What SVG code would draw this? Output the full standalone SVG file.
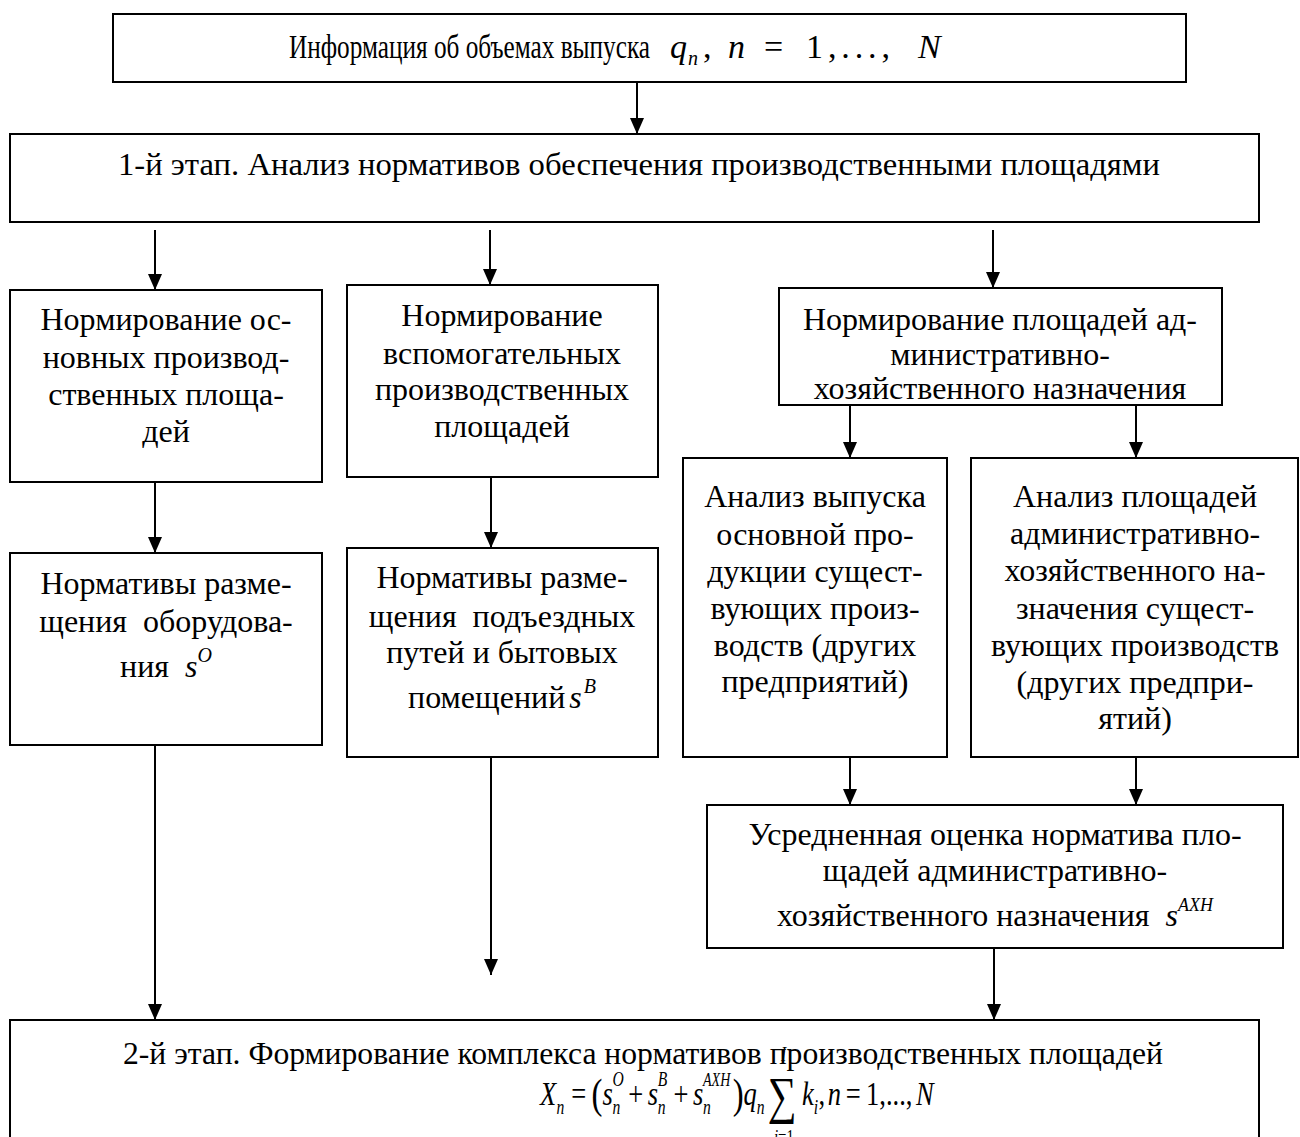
<svg xmlns="http://www.w3.org/2000/svg" width="1300" height="1137" viewBox="0 0 1300 1137">
<style>
.box{fill:#fff;stroke:#000;stroke-width:2}
.t{font-family:"Liberation Serif","Times New Roman",serif;font-size:32px;text-anchor:middle;fill:#000}
.f{font-family:"Liberation Serif","Times New Roman",serif;font-size:34px;fill:#000}
.i{font-style:italic}
.s{font-size:20px}
.c line{stroke:#000;stroke-width:2;marker-end:url(#arr)}
</style>
<defs>
<marker id="arr" markerUnits="userSpaceOnUse" markerWidth="16" markerHeight="14" refX="16" refY="7" orient="auto">
<path d="M0,0 L16,7 L0,14 z" fill="#000"/>
</marker>
</defs>
<rect width="1300" height="1137" fill="#fff"/>
<g class="c" id="connectors">
<line x1="637" y1="82" x2="637" y2="134"/>
<line x1="155" y1="230" x2="155" y2="290"/>
<line x1="490" y1="230" x2="490" y2="285"/>
<line x1="993" y1="230" x2="993" y2="288"/>
<line x1="155" y1="482" x2="155" y2="553"/>
<line x1="491" y1="477" x2="491" y2="548"/>
<line x1="850" y1="405" x2="850" y2="458"/>
<line x1="1136" y1="405" x2="1136" y2="458"/>
<line x1="850" y1="757" x2="850" y2="805"/>
<line x1="1136" y1="757" x2="1136" y2="805"/>
<line x1="155" y1="745" x2="155" y2="1020"/>
<line x1="491" y1="757" x2="491" y2="975"/>
<line x1="994" y1="948" x2="994" y2="1020"/>
</g>
<g id="n-info">
<rect class="box" x="113" y="14" width="1073" height="68"/>
<text class="f" x="289" y="58" style="font-size:33px" textLength="361" lengthAdjust="spacingAndGlyphs">Информация об объемах выпуска</text>
<text class="f i" x="670" y="58">q</text>
<text class="f i s" x="688" y="65">n</text>
<text class="f" x="703" y="58">,</text>
<text class="f i" x="728" y="58">n</text>
<text class="f" x="764" y="58">=</text>
<text class="f" x="806" y="58" textLength="84" lengthAdjust="spacing">1,...,</text>
<text class="f i" x="918" y="58">N</text>
</g>
<g id="n-stage1">
<rect class="box" x="10" y="134" width="1249" height="88"/>
<text class="t" x="639" y="175" textLength="1042" lengthAdjust="spacingAndGlyphs">1-й этап. Анализ нормативов обеспечения производственными площадями</text>
</g>
<g id="n-main">
<rect class="box" x="10" y="290" width="312" height="192"/>
<text class="t" x="166" y="330">Нормирование ос-</text>
<text class="t" x="166" y="368">новных производ-</text>
<text class="t" x="166" y="405">ственных площа-</text>
<text class="t" x="166" y="442">дей</text>
</g>
<g id="n-aux">
<rect class="box" x="347" y="285" width="311" height="192"/>
<text class="t" x="502" y="326">Нормирование</text>
<text class="t" x="502" y="364">вспомогательных</text>
<text class="t" x="502" y="400">производственных</text>
<text class="t" x="502" y="437">площадей</text>
</g>
<g id="n-adm">
<rect class="box" x="779" y="288" width="443" height="117"/>
<text class="t" x="1000" y="330">Нормирование площадей ад-</text>
<text class="t" x="1000" y="365">министративно-</text>
<text class="t" x="1000" y="399">хозяйственного назначения</text>
</g>
<g id="n-equip">
<rect class="box" x="10" y="553" width="312" height="192"/>
<text class="t" x="166" y="594">Нормативы разме-</text>
<text class="t" x="166" y="632" xml:space="preserve">щения  оборудова-</text>
<text class="t" x="166" y="677" xml:space="preserve">ния  <tspan class="i">s</tspan><tspan class="i" style="font-size:20px" dy="-15">O</tspan></text>
</g>
<g id="n-roads">
<rect class="box" x="347" y="548" width="311" height="209"/>
<text class="t" x="502" y="588">Нормативы разме-</text>
<text class="t" x="502" y="627" xml:space="preserve">щения  подъездных</text>
<text class="t" x="502" y="663">путей и бытовых</text>
<text class="t" x="502" y="708">помещений<tspan class="i" dx="4">s</tspan><tspan class="i" style="font-size:20px" dx="2" dy="-15">B</tspan></text>
</g>
<g id="n-output">
<rect class="box" x="683" y="458" width="264" height="299"/>
<text class="t" x="815" y="507">Анализ выпуска</text>
<text class="t" x="815" y="545">основной про-</text>
<text class="t" x="815" y="582">дукции сущест-</text>
<text class="t" x="815" y="619">вующих произ-</text>
<text class="t" x="815" y="656">водств (других</text>
<text class="t" x="815" y="692">предприятий)</text>
</g>
<g id="n-admarea">
<rect class="box" x="971" y="458" width="327" height="299"/>
<text class="t" x="1135" y="507">Анализ площадей</text>
<text class="t" x="1135" y="544">административно-</text>
<text class="t" x="1135" y="581">хозяйственного на-</text>
<text class="t" x="1135" y="619">значения сущест-</text>
<text class="t" x="1135" y="656">вующих производств</text>
<text class="t" x="1135" y="693">(других предпри-</text>
<text class="t" x="1135" y="729">ятий)</text>
</g>
<g id="n-avg">
<rect class="box" x="707" y="805" width="576" height="143"/>
<text class="t" x="995" y="845">Усредненная оценка норматива пло-</text>
<text class="t" x="995" y="881">щадей административно-</text>
<text class="t" x="995" y="926" xml:space="preserve">хозяйственного назначения  <tspan class="i">s</tspan><tspan class="i" style="font-size:18px" dy="-15">AXH</tspan></text>
</g>
<g id="n-stage2">
<rect class="box" x="10" y="1020" width="1249" height="140"/>
<text class="t" x="643" y="1064" textLength="1040" lengthAdjust="spacingAndGlyphs">2-й этап. Формирование комплекса нормативов производственных площадей</text>
<g transform="translate(540,1105) scale(0.78,1)">
<text class="f i" x="0" y="0">X</text>
<text class="f i s" x="21" y="9">n</text>
<text class="f" x="40" y="0">=</text>
<text class="f" x="66" y="3" style="font-size:42px">(</text>
<text class="f i" x="80" y="0">s</text>
<text class="f i s" x="93" y="-19">O</text>
<text class="f i s" x="93" y="9">n</text>
<text class="f" x="113" y="0">+</text>
<text class="f i" x="138" y="0">s</text>
<text class="f i s" x="151" y="-19">B</text>
<text class="f i s" x="151" y="9">n</text>
<text class="f" x="171" y="0">+</text>
<text class="f i" x="196" y="0">s</text>
<text class="f i" x="209" y="-19" style="font-size:18px">AXH</text>
<text class="f i s" x="209" y="9">n</text>
<text class="f" x="247" y="3" style="font-size:42px">)</text>
<text class="f i" x="261" y="0">q</text>
<text class="f i s" x="278" y="9">n</text>
<text class="f" x="292" y="8" style="font-size:52px">∑</text>
<text class="f i s" x="309" y="-44">I</text>
<text class="f i" x="300" y="38" style="font-size:19px">i<tspan font-style="normal">=1</tspan></text>
<text class="f i" x="336" y="0">k</text>
<text class="f i s" x="351" y="9">i</text>
<text class="f" x="357" y="0">,</text>
<text class="f i" x="369" y="0">n</text>
<text class="f" x="392" y="0">=</text>
<text class="f" x="418" y="0">1,...,</text>
<text class="f i" x="482" y="0">N</text>
</g>
</g>
</svg>
